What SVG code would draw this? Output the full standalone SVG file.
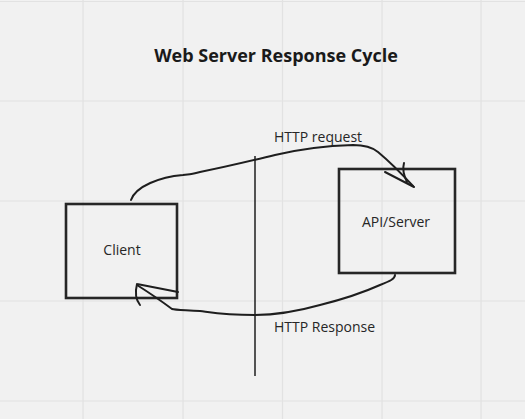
<svg xmlns="http://www.w3.org/2000/svg" width="525" height="419" viewBox="0 0 525 419">
<style>
.grid{stroke:#e2e2e2;stroke-width:1.2}
.box{fill:none;stroke:#262626;stroke-width:2.6}
.pen{fill:none;stroke:#1e1e1e;stroke-width:2;stroke-linecap:round;stroke-linejoin:round}
text{font-family:"Open Sans","Liberation Sans",sans-serif;fill:#262626}
.lbl{font-size:14px}
.ttl{font-size:18px;font-weight:bold;fill:#1a1a1a}
</style>
<rect width="525" height="419" fill="#f1f1f1"/>
<g id="grid">
<path class="grid" d="M83 0V419M183 0V419M282.5 0V419M382 0V419M481 0V419M0 1.5H525M0 101H525M0 201H525M0 301H525M0 401H525"/>
</g>
<text class="ttl" x="276" y="62" text-anchor="middle">Web Server Response Cycle</text>
<g id="divider"><line x1="255" y1="156" x2="255" y2="376" stroke="#1e1e1e" stroke-width="1.5"/></g>
<g id="client"><rect class="box" x="66" y="204" width="111" height="94"/><text class="lbl" x="122" y="255" text-anchor="middle">Client</text></g>
<g id="server"><rect class="box" x="339" y="169" width="116" height="104"/><text class="lbl" x="396" y="227" text-anchor="middle">API/Server</text></g>
<g id="connectors">
<path class="pen" d="M131 200C136 186 160 177 183 175C190 174 188 175 200 172C230 166 250 161 275 155C300 149 320 146 353 145C365 145 372 147 378 152C390 162 400 172 413 186"/>
<path class="pen" d="M385 172L414 187M404 163C402 170 404 176 407 182"/>
<path class="pen" d="M395 275C395 279 390 281 380 285C360 294 340 300 320 305C295 312 275 315 255 315C225 315 215 313 200 311C185 310 175 310 172 309C160 300 148 292 137 285"/>
<path class="pen" d="M178 292L137 284M137 284C135 292 136 300 140 305"/>
<text class="lbl" x="274" y="142">HTTP request</text>
<text class="lbl" x="274" y="332">HTTP Response</text>
</g>
</svg>
